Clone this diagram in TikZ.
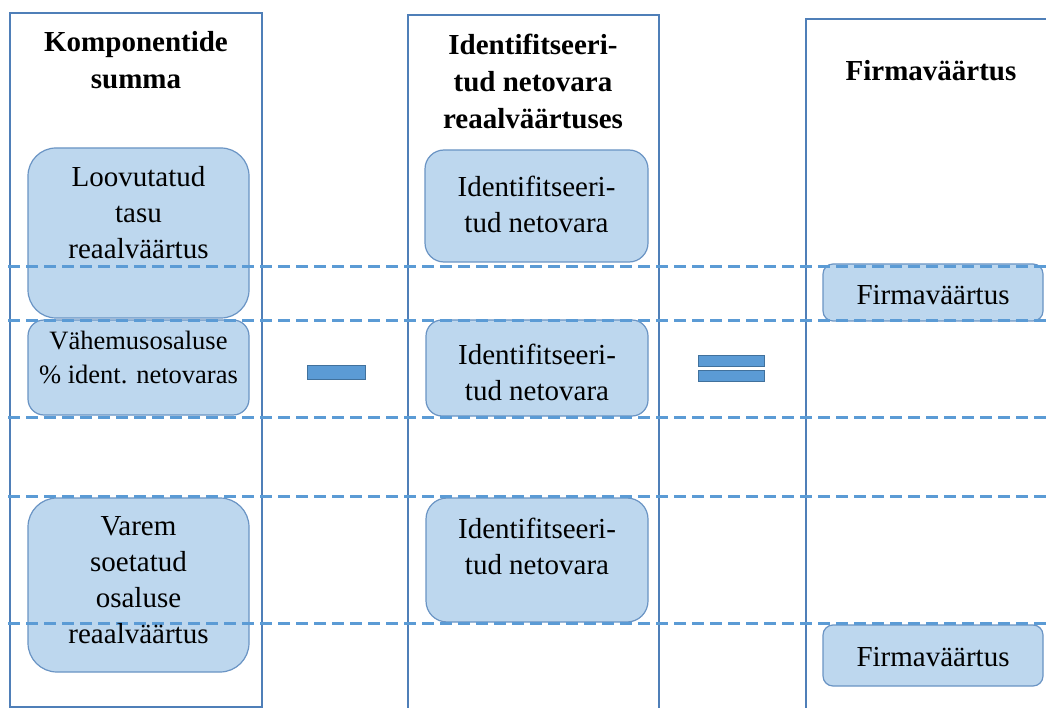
\documentclass[tikz,border=0pt]{standalone}
\usepackage{fontspec}
\setmainfont{Liberation Serif}
\definecolor{colframe}{HTML}{4F7FB8}
\definecolor{dashblue}{HTML}{5B9BD5}
\definecolor{boxfill}{HTML}{BDD7EE}
\definecolor{boxline}{HTML}{6A94C4}
\definecolor{signline}{HTML}{41719C}
\tikzset{
  column/.style={draw=colframe, line width=1.5pt},
  sepline/.style={draw=dashblue, line width=3pt, dash pattern=on 12pt off 6pt},
  itembox/.style={draw=boxline, fill=boxfill, line width=1.2pt, rectangle, inner sep=0pt},
  body/.style={font=\fontsize{29}{36}\selectfont, align=center, inner sep=0pt},
  smallbody/.style={font=\fontsize{26.5}{34}\selectfont, align=center, inner sep=0pt},
  head/.style={font=\fontsize{29}{37}\selectfont\bfseries, align=center, inner sep=0pt},
  sign/.style={draw=signline, fill=dashblue, line width=0.8pt}
}
\begin{document}
\begin{tikzpicture}[x=1pt, y=-1pt]
  \useasboundingbox (0,0) rectangle (1046,708);
  \clip (0,0) rectangle (1046,708);
  \fill[white] (0,0) rectangle (1046,708);

  % three columns
  \draw[column] (10,13) rectangle (262,707);
  \draw[column] (408,15) rectangle (659,730);
  \draw[column] (806,19) rectangle (1070,730);

  % column headings
  \node[head] (h1) at (136,60) {Komponentide\\summa};
  \node[head] (h2) at (533,81) {Identifitseeri-\\tud netovara\\reaalväärtuses};
  \node[head] (h3) at (931,71) {Firmaväärtus};

  % component boxes
  \node[itembox, rounded corners=28pt, minimum width=221pt, minimum height=170pt] (b1) at (138.5,233) {};
  \node[itembox, rounded corners=16pt, minimum width=221pt, minimum height=95pt] (b2) at (138.5,367.5) {};
  \node[itembox, rounded corners=29pt, minimum width=221pt, minimum height=174pt] (b3) at (138.5,585) {};
  \node[itembox, rounded corners=19pt, minimum width=223pt, minimum height=112pt] (n1) at (536.5,206) {};
  \node[itembox, rounded corners=16pt, minimum width=222pt, minimum height=96pt] (n2) at (537,368) {};
  \node[itembox, rounded corners=21pt, minimum width=222pt, minimum height=124pt] (n3) at (537,560) {};
  \node[itembox, rounded corners=10pt, minimum width=220pt, minimum height=57pt] (g1) at (933,292.5) {};
  \node[itembox, rounded corners=10pt, minimum width=220pt, minimum height=61pt] (g2) at (933,655.5) {};

  % operators
  \draw[sign] (307,365) rectangle (365,379);
  \draw[sign] (698,355) rectangle (764,366);
  \draw[sign] (698,370) rectangle (764,381);

  % dashed level lines
  \foreach \yy in {267,321,417,496,623}
    \draw[sepline] (8,\yy) -- (1046,\yy);

  % box texts
  \node[body] (t1) at (b1.center |- 0,213) {Loovutatud\\tasu\\reaalväärtus};
  \node[smallbody] (t2) at (b2.center |- 0,357) {Vähemusosaluse\\\% ident. netovaras};
  \node[body] (t3) at (b3.center |- 0,580) {Varem\\soetatud\\osaluse\\reaalväärtus};
  \node[body] (u1) at (n1.center |- 0,204) {Identifitseeri-\\tud netovara};
  \node[body] (u2) at (n2.center |- 0,372) {Identifitseeri-\\tud netovara};
  \node[body] (u3) at (n3.center |- 0,546) {Identifitseeri-\\tud netovara};
  \node[body] (f1) at (g1.center |- 0,295) {Firmaväärtus};
  \node[body] (f2) at (g2.center |- 0,657) {Firmaväärtus};
\end{tikzpicture}
\end{document}
